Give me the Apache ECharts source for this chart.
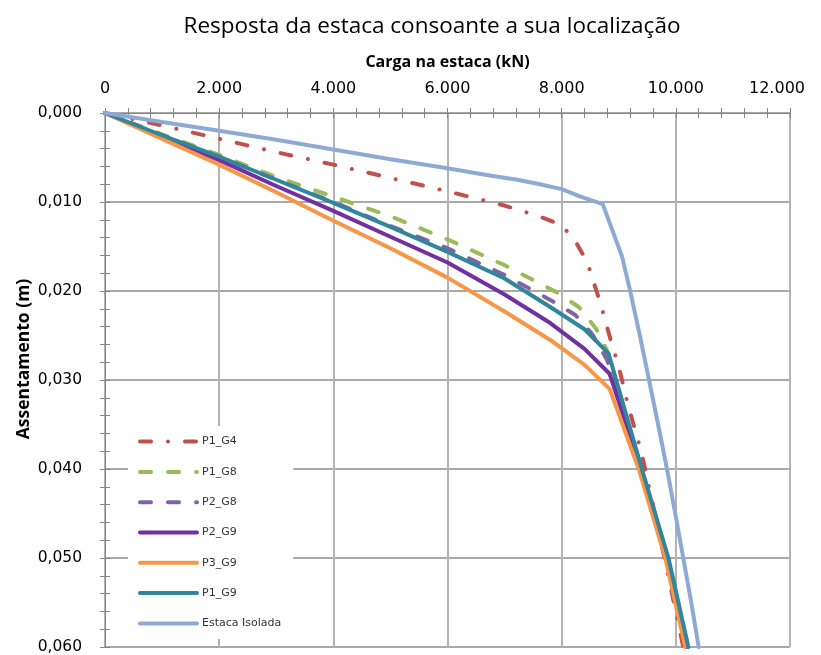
<!DOCTYPE html>
<html>
<head>
<meta charset="utf-8">
<script src="https://cdn.jsdelivr.net/npm/echarts@6/dist/echarts.min.js"></script>
<style>html,body{margin:0;padding:0;background:#fff;}#c{width:821px;height:655px;}</style>
</head>
<body>
<div id="c"></div>
<script>
// Load (kN) vs settlement (m) for each curve
const seriesNames = ['P1_G4','P1_G8','P2_G8','P2_G9','P3_G9','P1_G9','Estaca Isolada'];
const xTicks = [0,2000,4000,6000,8000,10000,12000];
const yTicks = [0,0.01,0.02,0.03,0.04,0.05,0.06];

const p1g4Load = [0,1000,2000,3000,4000,5000,6000,7000,7600,8000,8250,8450,8680,8880,9000,9170,9400,9700,10000,10130];
const p1g4Sett = [0,0.0014,0.0029,0.0044,0.0058,0.0073,0.0088,0.0104,0.0116,0.0126,0.0145,0.0168,0.0214,0.0260,0.0285,0.0330,0.0382,0.0470,0.0560,0.0600];

const p1g8Load = [0,1000,2000,3000,4000,5000,6000,7000,7900,8300,8600,8790,8850,9400,9860,10200];
const p1g8Sett = [0,0.0024,0.0047,0.0072,0.0094,0.0116,0.0142,0.0171,0.0201,0.0218,0.0242,0.0266,0.0280,0.0400,0.0500,0.0600];

const p2g8Load = [0,1000,2000,3000,4000,5000,6000,7000,7800,8240,8530,8730,8800,8860,9400,9860,10200];
const p2g8Sett = [0,0.0025,0.0049,0.0075,0.0100,0.0127,0.0152,0.0182,0.0210,0.0227,0.0248,0.0270,0.0278,0.0290,0.0400,0.0500,0.0600];

const p2g9Load = [0,1000,2000,3000,4000,5000,6000,7000,7800,8400,8840,9390,9845,10185];
const p2g9Sett = [0,0.0027,0.0053,0.0082,0.0110,0.0139,0.0168,0.0204,0.0236,0.0265,0.0293,0.0400,0.0500,0.0600];

const p3g9Load = [0,1000,2000,3000,4000,5000,6000,7000,7800,8400,8840,9350,9815,10165];
const p3g9Sett = [0,0.0029,0.0058,0.0089,0.0121,0.0152,0.0185,0.0223,0.0255,0.0283,0.0310,0.0400,0.0500,0.0600];

const p1g9Load = [0,1000,2000,3000,4000,5000,6000,7000,7800,8400,8820,9405,9870,10220];
const p1g9Sett = [0,0.0025,0.0049,0.0075,0.0101,0.0128,0.0156,0.0186,0.0218,0.0243,0.0270,0.0400,0.0500,0.0600];

const isolLoad = [0,1000,2000,3000,4000,5000,6000,6630,7220,7620,8000,8330,8720,9056,9200,9370,9530,9690,9845,9990,10130,10270,10400];
const isolSett = [0,0.0010,0.0020,0.0030,0.0041,0.0052,0.0062,0.0069,0.0075,0.0080,0.00855,0.0094,0.01024,0.0161,0.0200,0.0250,0.0300,0.0350,0.0400,0.0450,0.0500,0.0550,0.0600];

const colors = ['#C0504D','#9BBB59','#8064A2','#7030A0','#F79646','#31859C','#8EAAD4'];

const loads = [p1g4Load,p1g8Load,p2g8Load,p2g9Load,p3g9Load,p1g9Load,isolLoad];
const setts = [p1g4Sett,p1g8Sett,p2g8Sett,p2g9Sett,p3g9Sett,p1g9Sett,isolSett];
const dashes = [[11,17,0.01,17],[11,17],[11,17],'solid','solid','solid','solid'];

const chart = echarts.init(document.getElementById('c'));
const labelFont = 'DejaVu Sans';
const fmtX = v => {
  const s = String(v).replace(/\B(?=(\d{3})+(?!\d))/g, '.');
  return v === 12000 ? '{l|' + s + '}' : s;
};
const fmtY = v => v.toFixed(3).replace('.', ',');

const series = seriesNames.map((n,i) => ({
  name: n, type: 'line', xAxisIndex: 0, yAxisIndex: 0,
  data: loads[i].map((x,j) => [x, setts[i][j]]),
  showSymbol: false, symbol: 'none', smooth: false,
  lineStyle: {color: colors[i], width: 4, type: dashes[i], cap: 'round', join: 'round'},
  itemStyle: {color: colors[i]},
  emphasis: {disabled: true}, animation: false
}));

const minorCross = {show: true, splitNumber: 5, length: 5, lineStyle: {color: '#868686'}};

chart.setOption({
  animation: false,
  color: colors,
  title: {
    text: 'Resposta da estaca consoante a sua localização',
    left: 427, textAlign: 'center', top: 10,
    textStyle: {fontFamily: 'Open Sans', fontSize: 22.5, fontWeight: 'normal', color: '#000'}
  },
  grid: {left: 105, top: 113, right: 31, bottom: 8, containLabel: false, outerBoundsMode: 'none'},
  legend: {
    orient: 'vertical', left: 128, top: 426,
    data: seriesNames,
    backgroundColor: '#fff',
    padding: [10, 12, 10, 10],
    itemWidth: 57, itemHeight: 14, itemGap: 19.1,
    itemStyle: {opacity: 0},
    lineStyle: {width: 4, cap: 'round'},
    textStyle: {fontFamily: 'DejaVu Sans', fontSize: 11, color: '#333', padding: [0,0,0,0]}
  },
  xAxis: [{
    type: 'value', position: 'top', min: 0, max: 12000, interval: 2000,
    name: 'Carga na estaca (kN)', nameLocation: 'middle', nameGap: 43, nameMoveOverlap: false,
    nameTextStyle: {fontFamily: 'Open Sans', fontSize: 16, fontWeight: 'bold', color: '#000'},
    axisLine: {show: true, lineStyle: {color: '#868686', width: 1}},
    axisTick: {show: true, length: 5, lineStyle: {color: '#868686'}},
    minorTick: minorCross,
    splitLine: {show: true, lineStyle: {color: '#B3B3B3', width: 2}},
    axisLabel: {formatter: fmtX, margin: 16, fontFamily: labelFont, fontSize: 16, color: '#000',
      rich: {l: {fontFamily: labelFont, fontSize: 16, color: '#000', padding: [0, 26, 0, 0]}}}
  },{
    type: 'value', position: 'top', min: 0, max: 12000, interval: 2000,
    axisLine: {show: false}, axisLabel: {show: false}, splitLine: {show: false},
    axisTick: {show: true, inside: true, length: 5, lineStyle: {color: '#868686'}},
    minorTick: minorCross
  }],
  yAxis: [{
    type: 'value', inverse: true, min: 0, max: 0.06, interval: 0.01,
    name: 'Assentamento (m)', nameLocation: 'middle', nameGap: 72, nameRotate: 90, nameMoveOverlap: false,
    nameTextStyle: {fontFamily: 'Open Sans', fontSize: 17.5, fontWeight: 'bold', color: '#000', padding: [0,0,0,42]},
    axisLine: {show: true, lineStyle: {color: '#868686', width: 1}},
    axisTick: {show: true, length: 5, lineStyle: {color: '#868686'}},
    minorTick: minorCross,
    splitLine: {show: true, lineStyle: {color: '#8C8C8C', width: 1.5}},
    axisLabel: {formatter: fmtY, margin: 23, fontFamily: labelFont, fontSize: 15.5, color: '#000', align: 'right'}
  },{
    type: 'value', inverse: true, min: 0, max: 0.06, interval: 0.01, position: 'left', offset: 0,
    axisLine: {show: false}, axisLabel: {show: false}, splitLine: {show: false},
    axisTick: {show: true, inside: true, length: 5, lineStyle: {color: '#868686'}},
    minorTick: minorCross
  }],
  series: series
});
</script>
</body>
</html>
